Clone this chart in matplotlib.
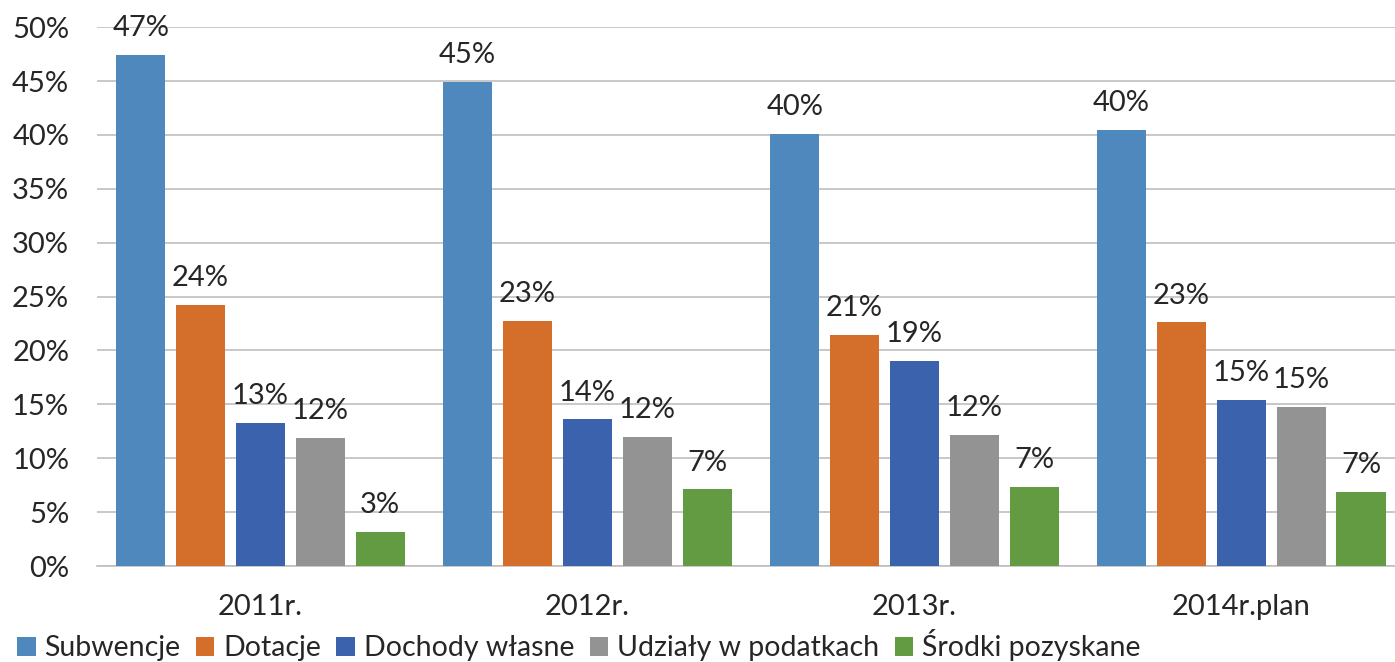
import matplotlib.pyplot as plt
import numpy as np

plt.rcParams['font.family'] = ['Lato', 'DejaVu Sans']

# data
years = ['2011r.', '2012r.', '2013r.', '2014r.plan']
series_names = ['Subwencje', 'Dotacje', 'Dochody własne', 'Udziały w podatkach', 'Środki pozyskane']
subwencje = [47.4, 44.9, 40.1, 40.5]
dotacje = [24.2, 22.7, 21.4, 22.6]
dochody = [13.3, 13.6, 19.0, 15.4]
udzialy = [11.9, 12.0, 12.2, 14.8]
srodki = [3.2, 7.1, 7.3, 6.9]
colors = ['#4f88bd', '#d46f2b', '#3b63ad', '#939393', '#629b41']

all_series = [subwencje, dotacje, dochody, udzialy, srodki]

fig = plt.figure(figsize=(13.95, 6.62), dpi=100)
ax = fig.add_axes([0.0695, 0.145, 0.9305, 0.814])

x = np.arange(len(years))
step = 0.183
width = 0.15
for i, (vals, name, col) in enumerate(zip(all_series, series_names, colors)):
    pos = x + (i - 2) * step
    bars = ax.bar(pos, vals, width, color=col, label=name, zorder=3)
    for b, v in zip(bars, vals):
        ax.annotate('%d%%' % round(v), (b.get_x() + b.get_width() / 2, v),
                    xytext=(0, 10), textcoords='offset points',
                    ha='center', va='bottom', fontsize=21, color='#262626')

ax.set_ylim(0, 50)
ax.set_xlim(-0.5, 3.47)
ax.set_yticks(range(0, 51, 5))
ax.set_yticklabels(['%d%%' % t for t in range(0, 51, 5)])
ax.set_xticks(x)
ax.set_xticklabels(years)
ax.yaxis.grid(True, color='#bfbfbf', linewidth=1.2, zorder=0)
for s in ['top', 'right', 'left']:
    ax.spines[s].set_visible(False)
ax.spines['bottom'].set_color('#bfbfbf')
ax.spines['bottom'].set_linewidth(1.2)
ax.tick_params(axis='both', length=0, labelsize=21, colors='#262626')
ax.tick_params(axis='x', pad=20)
ax.tick_params(axis='y', pad=20)

fig.legend(loc='lower left', bbox_to_anchor=(0.0, -0.025), ncol=5, frameon=False,
           fontsize=20.5, handlelength=0.65, handleheight=0.65, handletextpad=0.3,
           columnspacing=0.55, borderaxespad=0.2, labelcolor='#262626')

fig.savefig('out.png', dpi=100)
